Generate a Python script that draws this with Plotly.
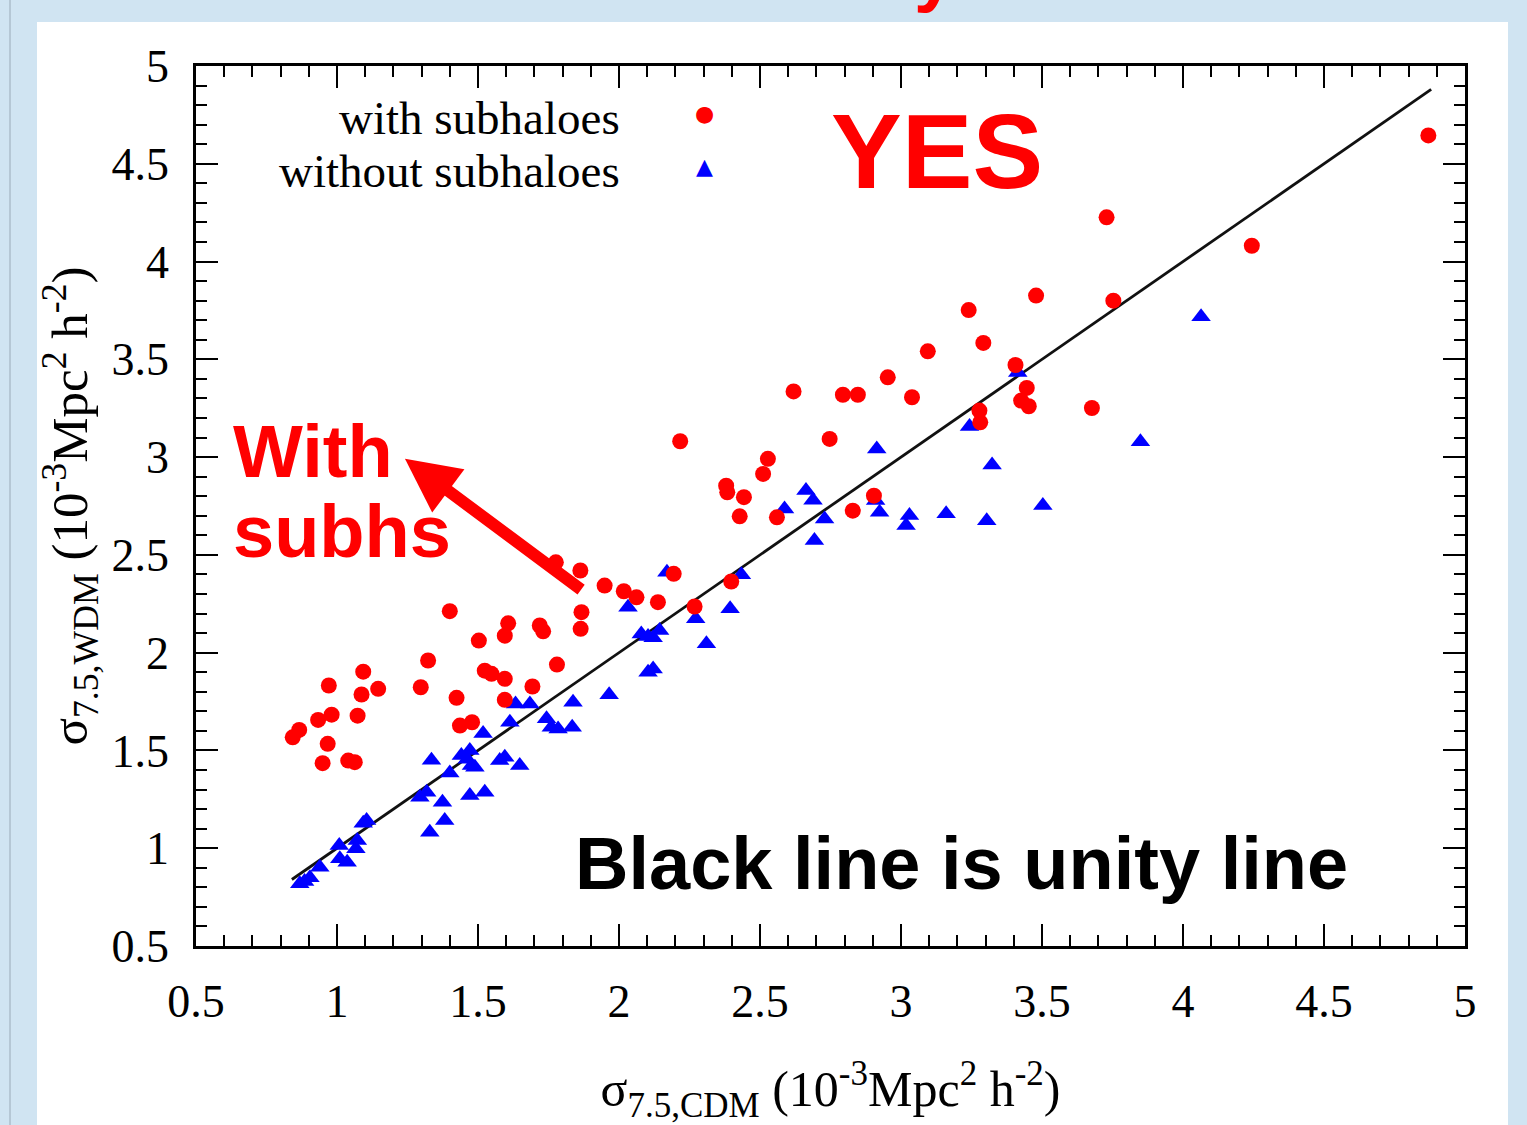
import plotly.graph_objects as go

# ---------------- data ----------------
with_x = [0.843, 0.866, 0.933, 0.981, 0.971, 1.093, 1.087, 1.146, 1.073, 0.967, 0.949, 1.040, 1.063,
          1.323, 1.297, 1.424, 1.436, 1.479, 1.503, 1.524, 1.548, 1.595, 1.595, 1.400, 1.607, 1.595,
          1.719, 1.731, 1.693, 1.780, 1.867, 1.864, 1.776, 1.863, 1.949, 2.017, 2.062, 2.138,
          2.217, 2.528, 2.511, 2.380, 2.384, 2.443, 2.428, 2.560, 2.194, 2.268, 2.398,
          3.240, 3.292, 3.095, 2.953, 3.039, 2.794, 2.847, 2.619, 2.747, 3.278, 3.281, 2.904, 2.829,
          3.729, 4.244, 3.479, 3.753, 3.406, 3.446, 3.426, 3.453, 3.677, 4.870]
with_y = [1.567, 1.605, 1.656, 1.683, 1.832, 1.903, 1.786, 1.815, 1.678, 1.534, 1.435, 1.448, 1.440,
          1.960, 1.823, 1.769, 1.627, 1.644, 2.062, 1.908, 1.892, 1.866, 1.759, 2.212, 2.150, 2.087,
          2.139, 2.109, 1.827, 1.939, 2.207, 2.122, 2.462, 2.420, 2.343, 2.314, 2.283, 2.258,
          3.081, 2.991, 2.914, 2.854, 2.820, 2.795, 2.697, 2.692, 2.403, 2.236, 2.364,
          3.752, 3.584, 3.541, 3.408, 3.306, 3.319, 3.319, 3.336, 3.093, 3.238, 3.178, 2.803, 2.726,
          4.226, 4.081, 3.826, 3.800, 3.471, 3.354, 3.289, 3.260, 3.251, 4.645]

without_x = [0.868, 0.885, 0.904, 0.939, 1.008, 1.010, 1.036, 1.067, 1.072, 1.093, 1.105,
             1.335, 1.294, 1.318, 1.374, 1.382, 1.329, 1.400, 1.441, 1.462, 1.471, 1.477, 1.489,
             1.518, 1.471, 1.524, 1.577, 1.595, 1.648, 1.613, 1.633, 1.684, 1.743, 1.760, 1.784,
             1.834, 1.837, 1.965, 2.032, 2.079, 2.103, 2.121, 2.144, 2.103, 2.121, 2.170, 2.272,
             2.310, 2.394, 2.434, 2.587, 2.663, 2.688, 2.693, 2.729, 2.914, 2.910, 2.924, 3.030,
             3.018, 3.160, 3.304, 3.243, 3.323, 3.414, 3.503, 3.849, 4.064]
without_y = [0.818, 0.830, 0.849, 0.903, 1.014, 0.946, 0.928, 0.997, 1.039, 1.128, 1.142,
             1.450, 1.261, 1.286, 1.235, 1.142, 1.082, 1.385, 1.474, 1.455, 1.500, 1.423, 1.414,
             1.587, 1.270, 1.286, 1.448, 1.465, 1.423, 1.644, 1.738, 1.738, 1.662, 1.619, 1.610,
             1.619, 1.746, 1.785, 2.232, 2.096, 2.083, 2.076, 2.113, 1.900, 1.917, 2.411, 2.173,
             2.045, 2.224, 2.399, 2.735, 2.829, 2.780, 2.573, 2.684, 3.042, 2.778, 2.718, 2.701,
             2.650, 2.710, 2.675, 3.156, 2.960, 3.433, 2.752, 3.079, 3.718]

unity = [0.84, 4.88]

x_ticks = [0.5, 1, 1.5, 2, 2.5, 3, 3.5, 4, 4.5, 5]
y_ticks = [0.5, 1, 1.5, 2, 2.5, 3, 3.5, 4, 4.5, 5]
x_tick_text = ["0.5", "1", "1.5", "2", "2.5", "3", "3.5", "4", "4.5", "5"]
y_tick_text = ["0.5", "1", "1.5", "2", "2.5", "3", "3.5", "4", "4.5", "5"]

RED = "#ff0000"
BLUE = "#0000ff"
SERIF = "Liberation Serif"
SANS = "Liberation Sans"

fig = go.Figure()

fig.add_trace(go.Scatter(x=unity, y=unity, mode="lines",
                         line=dict(color="#111111", width=2.8),
                         showlegend=False, name="unity line"))
fig.add_trace(go.Scatter(x=without_x, y=without_y, mode="markers", name="without subhaloes",
                         marker=dict(symbol="triangle-up", size=17, color=BLUE,
                                     line=dict(width=0)),
                         showlegend=False))
fig.add_trace(go.Scatter(x=with_x, y=with_y, mode="markers", name="with subhaloes",
                         marker=dict(symbol="circle", size=16, color=RED, line=dict(width=0)),
                         showlegend=False))

axis_common = dict(
    showline=True, linecolor="#000000", linewidth=2.5, mirror="allticks",
    ticks="inside", ticklen=22, tickwidth=1.6, tickcolor="#000000",
    minor=dict(ticks="inside", ticklen=11, tickwidth=1.6, tickcolor="#000000", dtick=0.1),
    showgrid=False, zeroline=False,
    tickfont=dict(family=SERIF, size=46, color="#000000"),
    range=[0.5, 5], tickmode="array",
)

fig.update_xaxes(**axis_common, tickvals=x_ticks, ticktext=x_tick_text,
                 ticklabelstandoff=13,
                 title=dict(text="σ<sub>7.5,CDM</sub> (10<sup>-3</sup>Mpc<sup>2</sup> h<sup>-2</sup>)",
                            font=dict(family=SERIF, size=50, color="#000000"), standoff=52))
fig.update_yaxes(**axis_common, tickvals=y_ticks, ticktext=y_tick_text,
                 ticklabelstandoff=15,
                 title=dict(text="σ<sub>7.5,WDM</sub> (10<sup>-3</sup>Mpc<sup>2</sup> h<sup>-2</sup>)",
                            font=dict(family=SERIF, size=51, color="#000000"), standoff=8))

L, R, T, B = 196, 62, 66, 179
W, H = 1527, 1125
pw, ph = W - L - R, H - T - B


def px(xp):
    return (xp - L) / pw


def py(yp):
    return (H - B - yp) / ph


shapes = [
    dict(type="rect", xref="paper", yref="paper", x0=px(37), x1=px(1508), y0=py(1140), y1=py(22),
         fillcolor="#ffffff", line=dict(width=0), layer="below"),
    dict(type="line", xref="paper", yref="paper", x0=px(10), x1=px(10), y0=py(1130), y1=py(-5),
         line=dict(color="#9aaab8", width=1), layer="below"),
]

annotations = [
    # legend
    dict(xref="x", yref="y", x=2.01, y=4.736, text="with subhaloes", showarrow=False,
         xanchor="right", yanchor="middle", font=dict(family=SERIF, size=47, color="#000000")),
    dict(xref="x", yref="y", x=2.01, y=4.465, text="without subhaloes", showarrow=False,
         xanchor="right", yanchor="middle", font=dict(family=SERIF, size=47, color="#000000")),
    dict(xref="x", yref="y", x=2.304, y=4.756, text="●", showarrow=False,
         xanchor="center", yanchor="middle", font=dict(family="DejaVu Sans", size=22, color=RED)),
    dict(xref="x", yref="y", x=2.304, y=4.488, text="▲", showarrow=False,
         xanchor="center", yanchor="middle", font=dict(family="DejaVu Sans", size=22, color=BLUE)),
    # callouts
    dict(xref="x", yref="y", x=3.129, y=4.567, text="<b>YES</b>", showarrow=False,
         xanchor="center", yanchor="middle", font=dict(family=SANS, size=106, color=RED)),
    dict(xref="x", yref="y", x=0.625, y=3.028, text="<b>With</b>", showarrow=False,
         xanchor="left", yanchor="middle", font=dict(family=SANS, size=74, color=RED)),
    dict(xref="x", yref="y", x=0.625, y=2.622, text="<b>subhs</b>", showarrow=False,
         xanchor="left", yanchor="middle", font=dict(family=SANS, size=74, color=RED)),
    dict(xref="x", yref="y", x=1.836, y=0.922, text="<b>Black line is unity line</b>",
         showarrow=False, xanchor="left", yanchor="middle",
         font=dict(family=SANS, size=74, color="#000000")),
    # arrow
    dict(xref="x", yref="y", axref="x", ayref="y", x=1.241, y=2.992, ax=1.871, ay=2.317,
         text="", showarrow=True, arrowhead=2, arrowsize=0.9, arrowwidth=12, arrowcolor=RED,
         standoff=0, startstandoff=0),
    # cut-off slide title (only descender visible)
    dict(xref="paper", yref="paper", x=px(935), y=py(16), text="<b>y</b>", showarrow=False,
         xanchor="center", yanchor="bottom", font=dict(family=SANS, size=74, color=RED)),
]

fig.update_layout(
    width=W, height=H,
    margin=dict(l=L, r=R, t=T, b=B, autoexpand=False),
    paper_bgcolor="#d0e4f2",
    plot_bgcolor="#ffffff",
    shapes=shapes,
    annotations=annotations,
    showlegend=False,
)

fig.write_html("out.html")
